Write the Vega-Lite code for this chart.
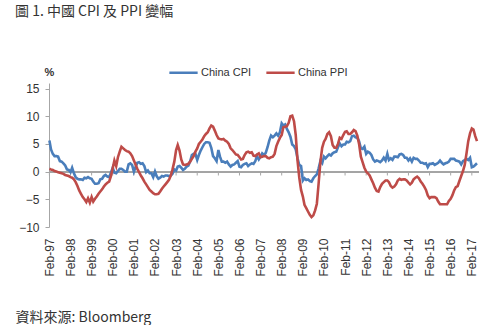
{
"$schema":"https://vega.github.io/schema/vega-lite/v6.json",
"width":430,"height":144,
"autosize":{"type":"none"},
"padding":{"left":49,"top":83,"right":22,"bottom":98},
"background":"white",
"config":{"view":{"stroke":null},"axis":{"labelFont":"Liberation Sans","labelFontSize":12,"labelColor":"#333333","grid":false,"labelOverlap":false}},
"title":{"text":"圖 1. 中國 CPI 及 PPI 變幅","anchor":"start","frame":"bounds","font":"Noto Sans CJK TC","fontSize":14,"fontWeight":"normal","color":"#333333","offset":38},
"data":{"values":[
{"m":"1997-02","China CPI":5.6,"China PPI":0.5},{"m":"1997-03","China CPI":4.0,"China PPI":0.4},{"m":"1997-04","China CPI":3.2,"China PPI":0.3},{"m":"1997-05","China CPI":2.8,"China PPI":0.1},{"m":"1997-06","China CPI":2.8,"China PPI":0.0},{"m":"1997-07","China CPI":2.7,"China PPI":-0.1},{"m":"1997-08","China CPI":1.9,"China PPI":-0.2},{"m":"1997-09","China CPI":1.8,"China PPI":-0.3},{"m":"1997-10","China CPI":1.5,"China PPI":-0.4},{"m":"1997-11","China CPI":1.1,"China PPI":-0.6},{"m":"1997-12","China CPI":0.4,"China PPI":-0.7},
{"m":"1998-01","China CPI":0.3,"China PPI":-0.8},{"m":"1998-02","China CPI":-0.1,"China PPI":-1.0},{"m":"1998-03","China CPI":0.7,"China PPI":-1.1},{"m":"1998-04","China CPI":-0.3,"China PPI":-1.4},{"m":"1998-05","China CPI":-1.0,"China PPI":-1.9},{"m":"1998-06","China CPI":-1.3,"China PPI":-2.6},{"m":"1998-07","China CPI":-1.4,"China PPI":-3.4},{"m":"1998-08","China CPI":-1.4,"China PPI":-4.0},{"m":"1998-09","China CPI":-1.5,"China PPI":-4.6},{"m":"1998-10","China CPI":-1.1,"China PPI":-5.0},{"m":"1998-11","China CPI":-1.2,"China PPI":-5.5},{"m":"1998-12","China CPI":-1.0,"China PPI":-4.8},
{"m":"1999-01","China CPI":-1.2,"China PPI":-5.6},{"m":"1999-02","China CPI":-1.3,"China PPI":-4.6},{"m":"1999-03","China CPI":-1.8,"China PPI":-5.4},{"m":"1999-04","China CPI":-2.2,"China PPI":-4.9},{"m":"1999-05","China CPI":-2.2,"China PPI":-4.5},{"m":"1999-06","China CPI":-2.1,"China PPI":-4.0},{"m":"1999-07","China CPI":-1.4,"China PPI":-3.6},{"m":"1999-08","China CPI":-1.3,"China PPI":-3.2},{"m":"1999-09","China CPI":-0.8,"China PPI":-2.7},{"m":"1999-10","China CPI":-0.6,"China PPI":-2.3},{"m":"1999-11","China CPI":-0.9,"China PPI":-2.0},{"m":"1999-12","China CPI":-1.0,"China PPI":-1.8},
{"m":"2000-01","China CPI":-0.2,"China PPI":-0.8},{"m":"2000-02","China CPI":0.7,"China PPI":0.6},{"m":"2000-03","China CPI":-0.2,"China PPI":2.0},{"m":"2000-04","China CPI":-0.3,"China PPI":1.0},{"m":"2000-05","China CPI":0.1,"China PPI":2.6},{"m":"2000-06","China CPI":0.5,"China PPI":3.6},{"m":"2000-07","China CPI":0.5,"China PPI":4.5},{"m":"2000-08","China CPI":0.3,"China PPI":4.2},{"m":"2000-09","China CPI":0.0,"China PPI":3.9},{"m":"2000-10","China CPI":0.0,"China PPI":3.7},{"m":"2000-11","China CPI":1.3,"China PPI":3.6},{"m":"2000-12","China CPI":1.5,"China PPI":3.3},
{"m":"2001-01","China CPI":1.2,"China PPI":2.8},{"m":"2001-02","China CPI":0.0,"China PPI":2.0},{"m":"2001-03","China CPI":0.8,"China PPI":1.3},{"m":"2001-04","China CPI":1.6,"China PPI":0.5},{"m":"2001-05","China CPI":1.7,"China PPI":-0.1},{"m":"2001-06","China CPI":1.4,"China PPI":-0.7},{"m":"2001-07","China CPI":1.5,"China PPI":-1.2},{"m":"2001-08","China CPI":1.0,"China PPI":-1.8},{"m":"2001-09","China CPI":-0.1,"China PPI":-2.3},{"m":"2001-10","China CPI":0.2,"China PPI":-2.8},{"m":"2001-11","China CPI":-0.3,"China PPI":-3.3},{"m":"2001-12","China CPI":-0.3,"China PPI":-3.6},
{"m":"2002-01","China CPI":-1.0,"China PPI":-3.9},{"m":"2002-02","China CPI":0.0,"China PPI":-4.1},{"m":"2002-03","China CPI":-0.8,"China PPI":-4.1},{"m":"2002-04","China CPI":-1.3,"China PPI":-4.0},{"m":"2002-05","China CPI":-1.1,"China PPI":-3.6},{"m":"2002-06","China CPI":-0.8,"China PPI":-3.1},{"m":"2002-07","China CPI":-0.9,"China PPI":-2.7},{"m":"2002-08","China CPI":-0.7,"China PPI":-2.3},{"m":"2002-09","China CPI":-0.7,"China PPI":-1.9},{"m":"2002-10","China CPI":-0.8,"China PPI":-1.5},{"m":"2002-11","China CPI":-0.7,"China PPI":-0.7},{"m":"2002-12","China CPI":-0.4,"China PPI":0.4},
{"m":"2003-01","China CPI":0.4,"China PPI":1.8},{"m":"2003-02","China CPI":0.2,"China PPI":3.9},{"m":"2003-03","China CPI":0.9,"China PPI":4.8},{"m":"2003-04","China CPI":1.0,"China PPI":3.8},{"m":"2003-05","China CPI":0.7,"China PPI":2.2},{"m":"2003-06","China CPI":0.3,"China PPI":1.3},{"m":"2003-07","China CPI":0.5,"China PPI":1.2},{"m":"2003-08","China CPI":0.9,"China PPI":1.3},{"m":"2003-09","China CPI":1.1,"China PPI":1.4},{"m":"2003-10","China CPI":1.8,"China PPI":1.8},{"m":"2003-11","China CPI":3.0,"China PPI":2.3},{"m":"2003-12","China CPI":3.2,"China PPI":2.8},
{"m":"2004-01","China CPI":3.2,"China PPI":3.6},{"m":"2004-02","China CPI":2.1,"China PPI":4.2},{"m":"2004-03","China CPI":3.0,"China PPI":5.0},{"m":"2004-04","China CPI":3.8,"China PPI":5.4},{"m":"2004-05","China CPI":4.4,"China PPI":5.8},{"m":"2004-06","China CPI":5.0,"China PPI":6.4},{"m":"2004-07","China CPI":5.3,"China PPI":6.8},{"m":"2004-08","China CPI":5.3,"China PPI":7.1},{"m":"2004-09","China CPI":5.2,"China PPI":7.8},{"m":"2004-10","China CPI":4.3,"China PPI":8.3},{"m":"2004-11","China CPI":2.8,"China PPI":8.1},{"m":"2004-12","China CPI":2.4,"China PPI":7.4},
{"m":"2005-01","China CPI":1.9,"China PPI":6.6},{"m":"2005-02","China CPI":3.9,"China PPI":6.0},{"m":"2005-03","China CPI":2.7,"China PPI":5.9},{"m":"2005-04","China CPI":1.8,"China PPI":5.8},{"m":"2005-05","China CPI":1.8,"China PPI":5.9},{"m":"2005-06","China CPI":1.6,"China PPI":5.6},{"m":"2005-07","China CPI":1.8,"China PPI":5.4},{"m":"2005-08","China CPI":1.3,"China PPI":5.0},{"m":"2005-09","China CPI":0.9,"China PPI":4.2},{"m":"2005-10","China CPI":1.2,"China PPI":3.9},{"m":"2005-11","China CPI":1.3,"China PPI":3.5},{"m":"2005-12","China CPI":1.6,"China PPI":3.1},
{"m":"2006-01","China CPI":1.9,"China PPI":3.0},{"m":"2006-02","China CPI":0.9,"China PPI":2.6},{"m":"2006-03","China CPI":0.8,"China PPI":2.2},{"m":"2006-04","China CPI":1.2,"China PPI":2.3},{"m":"2006-05","China CPI":1.4,"China PPI":3.0},{"m":"2006-06","China CPI":1.5,"China PPI":3.5},{"m":"2006-07","China CPI":1.0,"China PPI":3.6},{"m":"2006-08","China CPI":1.3,"China PPI":3.4},{"m":"2006-09","China CPI":1.5,"China PPI":3.5},{"m":"2006-10","China CPI":1.4,"China PPI":2.9},{"m":"2006-11","China CPI":1.9,"China PPI":2.8},{"m":"2006-12","China CPI":2.8,"China PPI":3.1},
{"m":"2007-01","China CPI":2.2,"China PPI":3.3},{"m":"2007-02","China CPI":2.7,"China PPI":2.6},{"m":"2007-03","China CPI":3.3,"China PPI":2.7},{"m":"2007-04","China CPI":3.0,"China PPI":2.8},{"m":"2007-05","China CPI":3.4,"China PPI":2.8},{"m":"2007-06","China CPI":4.4,"China PPI":2.5},{"m":"2007-07","China CPI":5.6,"China PPI":2.4},{"m":"2007-08","China CPI":6.5,"China PPI":2.6},{"m":"2007-09","China CPI":6.2,"China PPI":2.7},{"m":"2007-10","China CPI":6.5,"China PPI":3.2},{"m":"2007-11","China CPI":6.9,"China PPI":4.6},{"m":"2007-12","China CPI":6.5,"China PPI":5.4},
{"m":"2008-01","China CPI":7.1,"China PPI":6.1},{"m":"2008-02","China CPI":8.7,"China PPI":6.6},{"m":"2008-03","China CPI":8.3,"China PPI":8.0},{"m":"2008-04","China CPI":8.5,"China PPI":8.1},{"m":"2008-05","China CPI":7.7,"China PPI":8.2},{"m":"2008-06","China CPI":7.1,"China PPI":8.8},{"m":"2008-07","China CPI":6.3,"China PPI":10.0},{"m":"2008-08","China CPI":4.9,"China PPI":10.1},{"m":"2008-09","China CPI":4.6,"China PPI":9.1},{"m":"2008-10","China CPI":4.0,"China PPI":6.6},{"m":"2008-11","China CPI":2.4,"China PPI":2.0},{"m":"2008-12","China CPI":1.2,"China PPI":-1.1},
{"m":"2009-01","China CPI":1.0,"China PPI":-3.3},{"m":"2009-02","China CPI":-1.6,"China PPI":-4.5},{"m":"2009-03","China CPI":-1.2,"China PPI":-6.0},{"m":"2009-04","China CPI":-1.5,"China PPI":-6.6},{"m":"2009-05","China CPI":-1.4,"China PPI":-7.2},{"m":"2009-06","China CPI":-1.7,"China PPI":-7.8},{"m":"2009-07","China CPI":-1.8,"China PPI":-8.2},{"m":"2009-08","China CPI":-1.2,"China PPI":-7.9},{"m":"2009-09","China CPI":-0.8,"China PPI":-7.0},{"m":"2009-10","China CPI":-0.5,"China PPI":-5.8},{"m":"2009-11","China CPI":0.6,"China PPI":-2.1},{"m":"2009-12","China CPI":1.9,"China PPI":1.7},
{"m":"2010-01","China CPI":1.5,"China PPI":4.3},{"m":"2010-02","China CPI":2.7,"China PPI":5.4},{"m":"2010-03","China CPI":2.4,"China PPI":5.9},{"m":"2010-04","China CPI":2.8,"China PPI":6.8},{"m":"2010-05","China CPI":3.1,"China PPI":7.1},{"m":"2010-06","China CPI":2.9,"China PPI":6.4},{"m":"2010-07","China CPI":3.3,"China PPI":4.8},{"m":"2010-08","China CPI":3.5,"China PPI":4.3},{"m":"2010-09","China CPI":3.6,"China PPI":4.3},{"m":"2010-10","China CPI":4.4,"China PPI":5.0},{"m":"2010-11","China CPI":5.1,"China PPI":6.1},{"m":"2010-12","China CPI":4.6,"China PPI":5.9},
{"m":"2011-01","China CPI":4.9,"China PPI":6.6},{"m":"2011-02","China CPI":4.9,"China PPI":7.2},{"m":"2011-03","China CPI":5.4,"China PPI":7.3},{"m":"2011-04","China CPI":5.3,"China PPI":6.8},{"m":"2011-05","China CPI":5.5,"China PPI":6.8},{"m":"2011-06","China CPI":6.4,"China PPI":7.1},{"m":"2011-07","China CPI":6.5,"China PPI":7.5},{"m":"2011-08","China CPI":6.2,"China PPI":7.3},{"m":"2011-09","China CPI":6.1,"China PPI":6.5},{"m":"2011-10","China CPI":5.5,"China PPI":5.0},{"m":"2011-11","China CPI":4.2,"China PPI":2.7},{"m":"2011-12","China CPI":4.1,"China PPI":1.7},
{"m":"2012-01","China CPI":4.5,"China PPI":0.7},{"m":"2012-02","China CPI":3.2,"China PPI":0.0},{"m":"2012-03","China CPI":3.6,"China PPI":-0.3},{"m":"2012-04","China CPI":3.4,"China PPI":-0.7},{"m":"2012-05","China CPI":3.0,"China PPI":-1.4},{"m":"2012-06","China CPI":2.2,"China PPI":-2.1},{"m":"2012-07","China CPI":1.8,"China PPI":-2.9},{"m":"2012-08","China CPI":2.0,"China PPI":-3.5},{"m":"2012-09","China CPI":1.9,"China PPI":-3.6},{"m":"2012-10","China CPI":1.7,"China PPI":-2.8},{"m":"2012-11","China CPI":2.0,"China PPI":-2.2},{"m":"2012-12","China CPI":2.5,"China PPI":-1.9},
{"m":"2013-01","China CPI":2.0,"China PPI":-1.6},{"m":"2013-02","China CPI":3.2,"China PPI":-1.6},{"m":"2013-03","China CPI":2.1,"China PPI":-1.9},{"m":"2013-04","China CPI":2.4,"China PPI":-2.6},{"m":"2013-05","China CPI":2.1,"China PPI":-2.9},{"m":"2013-06","China CPI":2.7,"China PPI":-2.7},{"m":"2013-07","China CPI":2.7,"China PPI":-2.3},{"m":"2013-08","China CPI":2.6,"China PPI":-1.6},{"m":"2013-09","China CPI":3.1,"China PPI":-1.3},{"m":"2013-10","China CPI":3.2,"China PPI":-1.5},{"m":"2013-11","China CPI":3.0,"China PPI":-1.4},{"m":"2013-12","China CPI":2.5,"China PPI":-1.4},
{"m":"2014-01","China CPI":2.5,"China PPI":-1.6},{"m":"2014-02","China CPI":2.0,"China PPI":-2.0},{"m":"2014-03","China CPI":2.4,"China PPI":-2.3},{"m":"2014-04","China CPI":1.8,"China PPI":-2.0},{"m":"2014-05","China CPI":2.5,"China PPI":-1.4},{"m":"2014-06","China CPI":2.3,"China PPI":-1.1},{"m":"2014-07","China CPI":2.3,"China PPI":-0.9},{"m":"2014-08","China CPI":2.0,"China PPI":-1.2},{"m":"2014-09","China CPI":1.6,"China PPI":-1.8},{"m":"2014-10","China CPI":1.6,"China PPI":-2.2},{"m":"2014-11","China CPI":1.4,"China PPI":-2.7},{"m":"2014-12","China CPI":1.5,"China PPI":-3.3},
{"m":"2015-01","China CPI":0.8,"China PPI":-4.3},{"m":"2015-02","China CPI":1.4,"China PPI":-4.8},{"m":"2015-03","China CPI":1.4,"China PPI":-4.6},{"m":"2015-04","China CPI":1.5,"China PPI":-4.6},{"m":"2015-05","China CPI":1.2,"China PPI":-4.6},{"m":"2015-06","China CPI":1.4,"China PPI":-4.8},{"m":"2015-07","China CPI":1.6,"China PPI":-5.4},{"m":"2015-08","China CPI":2.0,"China PPI":-5.9},{"m":"2015-09","China CPI":1.6,"China PPI":-5.9},{"m":"2015-10","China CPI":1.3,"China PPI":-5.9},{"m":"2015-11","China CPI":1.5,"China PPI":-5.9},{"m":"2015-12","China CPI":1.6,"China PPI":-5.9},
{"m":"2016-01","China CPI":1.8,"China PPI":-5.3},{"m":"2016-02","China CPI":2.3,"China PPI":-4.9},{"m":"2016-03","China CPI":2.3,"China PPI":-4.3},{"m":"2016-04","China CPI":2.3,"China PPI":-3.4},{"m":"2016-05","China CPI":2.0,"China PPI":-2.8},{"m":"2016-06","China CPI":1.9,"China PPI":-2.6},{"m":"2016-07","China CPI":1.8,"China PPI":-1.7},{"m":"2016-08","China CPI":1.3,"China PPI":-0.8},{"m":"2016-09","China CPI":1.9,"China PPI":0.1},{"m":"2016-10","China CPI":2.1,"China PPI":1.2},{"m":"2016-11","China CPI":2.3,"China PPI":3.3},{"m":"2016-12","China CPI":2.1,"China PPI":5.5},
{"m":"2017-01","China CPI":2.5,"China PPI":6.9},{"m":"2017-02","China CPI":0.8,"China PPI":7.8},{"m":"2017-03","China CPI":0.9,"China PPI":7.6},{"m":"2017-04","China CPI":1.2,"China PPI":6.4},{"m":"2017-05","China CPI":1.5,"China PPI":5.5}
]},
"layer":[
{"mark":{"type":"rule","color":"#A6A6A6","strokeWidth":1},
 "encoding":{"y":{"datum":0,"type":"quantitative","scale":{"domain":[-10,15]},
   "axis":{"title":"%","titleAngle":0,"titleAnchor":"end","titleAlign":"center","titleBaseline":"bottom","titleX":0,"titleY":-6,"titleFont":"Liberation Sans","titleFontSize":11,"titleFontWeight":"bold","titleColor":"#333333",
    "values":[-10,-5,0,5,10,15],"grid":false,"labelOverlap":false,"domainColor":"#A6A6A6","tickColor":"#A6A6A6","tickSize":4,"labelFont":"Liberation Sans","labelFontSize":12,"labelColor":"#333333","labelPadding":6}}}},
{"data":{"values":[{"m":"1997-02"},{"m":"1998-02"},{"m":"1999-02"},{"m":"2000-02"},{"m":"2001-02"},{"m":"2002-02"},{"m":"2003-02"},{"m":"2004-02"},{"m":"2005-02"},{"m":"2006-02"},{"m":"2007-02"},{"m":"2008-02"},{"m":"2009-02"},{"m":"2010-02"},{"m":"2011-02"},{"m":"2012-02"},{"m":"2013-02"},{"m":"2014-02"},{"m":"2015-02"},{"m":"2016-02"},{"m":"2017-02"}]},
 "mark":{"type":"rule","color":"#A6A6A6","strokeWidth":1},
 "encoding":{
  "x":{"field":"m","timeUnit":"utcyearmonth","type":"temporal","title":"資料來源: Bloomberg",
   "scale":{"domain":[{"year":1997,"month":1,"date":25,"utc":true},{"year":2017,"month":6,"date":5,"utc":true}]},
   "axis":{"values":[{"year":1997,"month":2,"date":1,"utc":true},{"year":1998,"month":2,"date":1,"utc":true},{"year":1999,"month":2,"date":1,"utc":true},{"year":2000,"month":2,"date":1,"utc":true},{"year":2001,"month":2,"date":1,"utc":true},{"year":2002,"month":2,"date":1,"utc":true},{"year":2003,"month":2,"date":1,"utc":true},{"year":2004,"month":2,"date":1,"utc":true},{"year":2005,"month":2,"date":1,"utc":true},{"year":2006,"month":2,"date":1,"utc":true},{"year":2007,"month":2,"date":1,"utc":true},{"year":2008,"month":2,"date":1,"utc":true},{"year":2009,"month":2,"date":1,"utc":true},{"year":2010,"month":2,"date":1,"utc":true},{"year":2011,"month":2,"date":1,"utc":true},{"year":2012,"month":2,"date":1,"utc":true},{"year":2013,"month":2,"date":1,"utc":true},{"year":2014,"month":2,"date":1,"utc":true},{"year":2015,"month":2,"date":1,"utc":true},{"year":2016,"month":2,"date":1,"utc":true},{"year":2017,"month":2,"date":1,"utc":true}],
    "format":"%b-%y","labelAngle":270,"labelAlign":"right","labelBaseline":"middle","labelOverlap":false,"ticks":false,"domain":false,"grid":false,"labelPadding":11,
    "labelFont":"Liberation Sans","labelFontSize":12,"labelColor":"#333333",
    "titleFont":"Noto Sans CJK TC","titleFontSize":14,"titleFontWeight":"normal","titleColor":"#333333","titleAnchor":"start","titleAlign":"left","titleBaseline":"middle","titleX":-34,"titleY":90}},
  "y":{"datum":0,"type":"quantitative","axis":{"title":"%","values":[-10,-5,0,5,10,15],"labelOverlap":false}},"y2":{"datum":-0.7}}},
{"transform":[{"fold":["China CPI","China PPI"],"as":["series","value"]}],
 "mark":{"type":"line","strokeWidth":2.6},
 "encoding":{
  "x":{"field":"m","timeUnit":"utcyearmonth","type":"temporal","axis":{"title":"資料來源: Bloomberg","format":"%b-%y","labelOverlap":false,"values":[{"year":1997,"month":2,"date":1,"utc":true},{"year":1998,"month":2,"date":1,"utc":true},{"year":1999,"month":2,"date":1,"utc":true},{"year":2000,"month":2,"date":1,"utc":true},{"year":2001,"month":2,"date":1,"utc":true},{"year":2002,"month":2,"date":1,"utc":true},{"year":2003,"month":2,"date":1,"utc":true},{"year":2004,"month":2,"date":1,"utc":true},{"year":2005,"month":2,"date":1,"utc":true},{"year":2006,"month":2,"date":1,"utc":true},{"year":2007,"month":2,"date":1,"utc":true},{"year":2008,"month":2,"date":1,"utc":true},{"year":2009,"month":2,"date":1,"utc":true},{"year":2010,"month":2,"date":1,"utc":true},{"year":2011,"month":2,"date":1,"utc":true},{"year":2012,"month":2,"date":1,"utc":true},{"year":2013,"month":2,"date":1,"utc":true},{"year":2014,"month":2,"date":1,"utc":true},{"year":2015,"month":2,"date":1,"utc":true},{"year":2016,"month":2,"date":1,"utc":true},{"year":2017,"month":2,"date":1,"utc":true}]}},
  "y":{"field":"value","type":"quantitative","axis":{"title":"%","values":[-10,-5,0,5,10,15],"labelOverlap":false}},
  "color":{"field":"series","type":"nominal","scale":{"domain":["China CPI","China PPI"],"range":["#4A7EBB","#BE4B48"]},
   "legend":{"title":null,"orient":"none","legendX":119,"legendY":-26,"direction":"horizontal","symbolType":"stroke","symbolSize":800,"symbolStrokeWidth":2.5,"labelFont":"Liberation Sans","labelFontSize":11,"labelColor":"#333333","labelOffset":2,"columnPadding":9}}
 }}
]
}
